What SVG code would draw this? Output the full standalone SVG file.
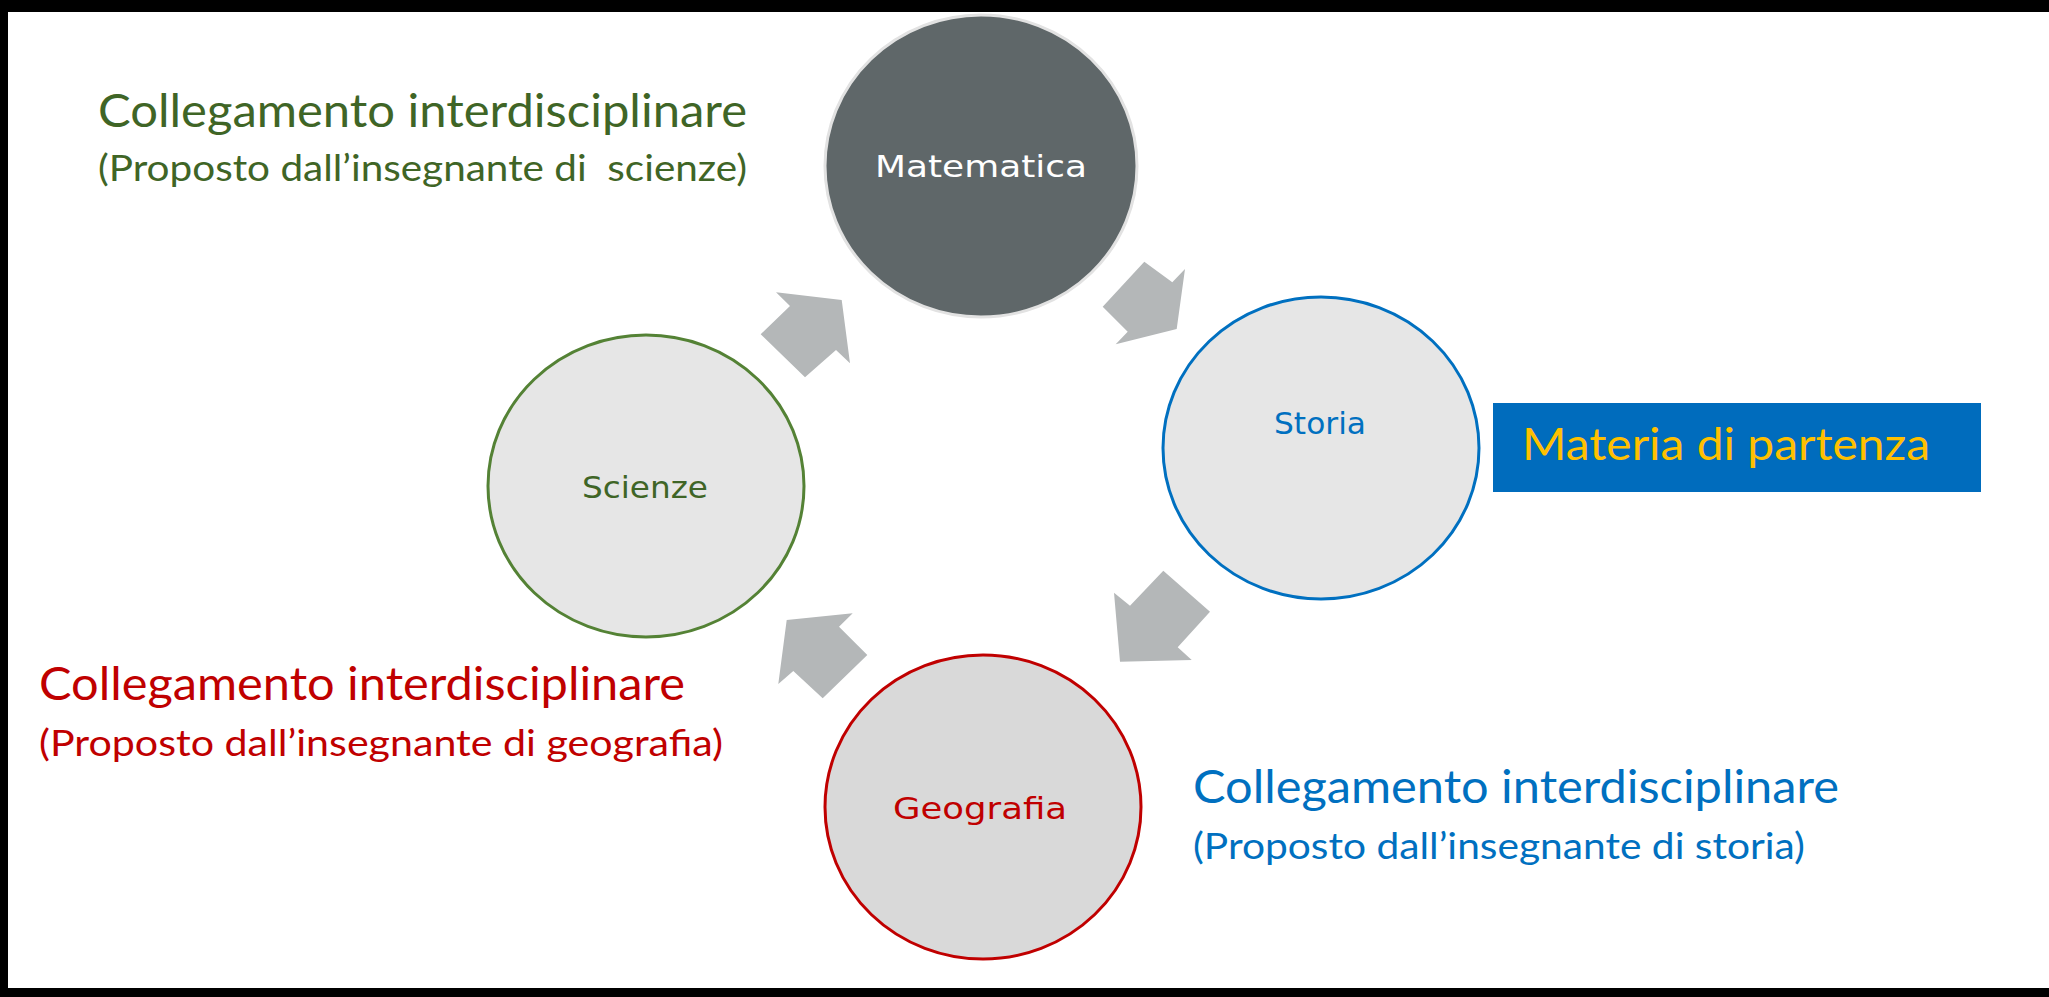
<svg xmlns="http://www.w3.org/2000/svg" width="2049" height="997" viewBox="0 0 2049 997">
  <style>
    .lbl { font-family: Lato, "Liberation Sans", sans-serif; }
    .node-text { font-family: "DejaVu Sans", "Liberation Sans", sans-serif; font-size: 31px; text-anchor: middle; }
    .arrow { fill: #b4b7b8; }
    .green { fill: #3f6526; }
    .red { fill: #c00000; }
    .blue { fill: #0070c0; }
  </style>
  <rect x="0" y="0" width="2049" height="997" fill="#000000"/>
  <rect x="8" y="12" width="2041" height="976" fill="#ffffff"/>

  <g id="connectors">
    <polygon class="arrow" points="1144.3,261.7 1172.3,282.3 1185,269 1176.7,329 1115.7,344.3 1127.7,331.7 1102.7,306.7"/>
    <polygon class="arrow" points="1163.3,570.7 1210,611.7 1177.7,647.3 1191.7,660 1120,661.7 1114,592.7 1130,605.7"/>
    <polygon class="arrow" points="786.7,620 852.7,613.3 839,626.7 867.3,655 822.7,698.3 793.3,671 778.3,684"/>
    <polygon class="arrow" points="776,292.3 841.7,300 850,363.3 836,350 805,377.3 760.7,334.3 790,306"/>
  </g>

  <g id="matematica">
    <ellipse cx="981" cy="166" rx="156" ry="151" fill="#5f6769" stroke="#e2e2e2" stroke-width="3"/>
    <text class="node-text" x="981" y="177" fill="#ffffff" textLength="212" lengthAdjust="spacingAndGlyphs">Matematica</text>
  </g>

  <g id="storia">
    <ellipse cx="1321" cy="448" rx="158" ry="151" fill="#e6e6e6" stroke="#0070c0" stroke-width="3"/>
    <text class="node-text" x="1320" y="434" fill="#0070c0" textLength="92" lengthAdjust="spacingAndGlyphs">Storia</text>
  </g>

  <g id="scienze">
    <ellipse cx="646" cy="486" rx="158" ry="151" fill="#e6e6e6" stroke="#548235" stroke-width="3"/>
    <text class="node-text" x="645" y="498" fill="#3f6526" textLength="126" lengthAdjust="spacingAndGlyphs">Scienze</text>
  </g>

  <g id="geografia">
    <ellipse cx="983" cy="807" rx="158" ry="152" fill="#d9d9d9" stroke="#c00000" stroke-width="3"/>
    <text class="node-text" x="980" y="819" fill="#c00000" textLength="174" lengthAdjust="spacingAndGlyphs">Geografia</text>
  </g>

  <g id="materia-di-partenza">
    <rect x="1493" y="403" width="488" height="89" fill="#006cbd"/>
    <text class="lbl" x="1522" y="460" font-size="44" fill="#ffc000" textLength="408" lengthAdjust="spacingAndGlyphs">Materia di partenza</text>
  </g>

  <g id="label-scienze">
    <text class="lbl green" x="98" y="127" font-size="46" textLength="649" lengthAdjust="spacingAndGlyphs">Collegamento interdisciplinare</text>
    <text class="lbl green" x="98" y="181" font-size="37" textLength="649" lengthAdjust="spacingAndGlyphs" xml:space="preserve">(Proposto dall’insegnante di  scienze)</text>
  </g>

  <g id="label-geografia">
    <text class="lbl red" x="39" y="700" font-size="46" textLength="646" lengthAdjust="spacingAndGlyphs">Collegamento interdisciplinare</text>
    <text class="lbl red" x="39" y="756" font-size="37" textLength="684" lengthAdjust="spacingAndGlyphs">(Proposto dall’insegnante di geografia)</text>
  </g>

  <g id="label-storia">
    <text class="lbl blue" x="1193" y="803" font-size="46" textLength="646" lengthAdjust="spacingAndGlyphs">Collegamento interdisciplinare</text>
    <text class="lbl blue" x="1193" y="859" font-size="37" textLength="612" lengthAdjust="spacingAndGlyphs">(Proposto dall’insegnante di storia)</text>
  </g>
</svg>
